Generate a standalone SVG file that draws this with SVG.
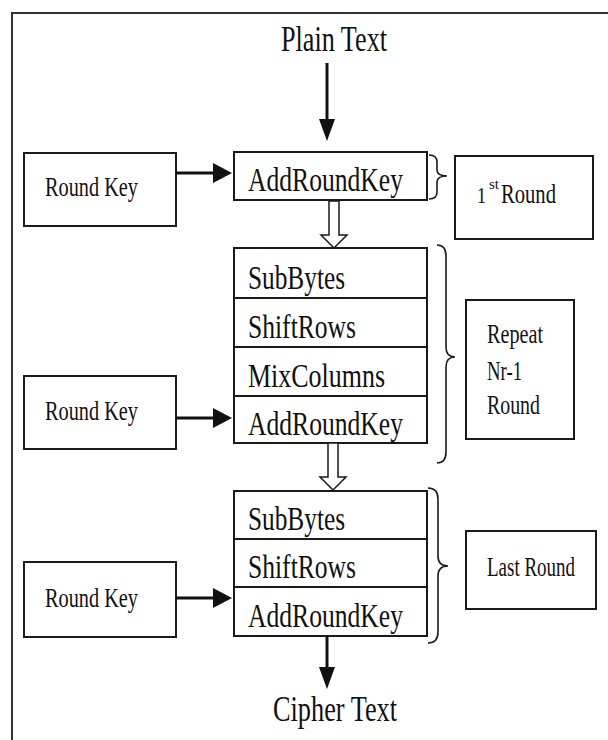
<svg xmlns="http://www.w3.org/2000/svg" width="608" height="740" viewBox="0 0 608 740">
  <defs>
    <style>
      .box { fill: #fff; stroke: #1a1a1a; stroke-width: 2; }
      .rule { stroke: #1a1a1a; stroke-width: 2; fill: none; }
      .frame { stroke: #333; stroke-width: 2; fill: none; }
      .brace { stroke: #1a1a1a; stroke-width: 1.6; fill: none; }
      .shaft { stroke: #111; stroke-width: 3; fill: none; }
      .head { fill: #111; stroke: none; }
      .hollow { fill: #fff; stroke: #1a1a1a; stroke-width: 1.5; stroke-linejoin: miter; }
      text { font-family: "Liberation Serif", "Times New Roman", serif; fill: #111; }
      .big { font-size: 35px; }
      .step { font-size: 33px; }
      .key { font-size: 28px; }
      .note { font-size: 27px; }
    </style>
  </defs>

  <rect width="608" height="740" fill="#fff"/>

  <!-- page frame -->
  <g id="frame">
    <line class="frame" x1="11" y1="13" x2="608" y2="13"/>
    <line class="frame" x1="12" y1="12" x2="12" y2="740"/>
  </g>

  <g id="plain-text">
    <text class="big" x="281" y="51" textLength="106" lengthAdjust="spacingAndGlyphs">Plain Text</text>
  </g>

  <!-- round keys -->
  <g id="round-key-1">
    <rect class="box" x="24" y="153" width="152" height="73"/>
    <text class="key" x="45" y="196" textLength="93" lengthAdjust="spacingAndGlyphs">Round Key</text>
  </g>
  <g id="round-key-2">
    <rect class="box" x="24" y="376" width="152" height="73"/>
    <text class="key" x="45" y="420" textLength="93" lengthAdjust="spacingAndGlyphs">Round Key</text>
  </g>
  <g id="round-key-3">
    <rect class="box" x="24" y="562" width="152" height="75"/>
    <text class="key" x="45" y="607" textLength="93" lengthAdjust="spacingAndGlyphs">Round Key</text>
  </g>

  <!-- initial round -->
  <g id="initial-add-round-key">
    <rect class="box" x="234" y="152" width="193" height="48"/>
    <text class="step" x="248" y="191" textLength="155" lengthAdjust="spacingAndGlyphs">AddRoundKey</text>
  </g>

  <!-- main rounds -->
  <g id="main-round">
    <rect class="box" x="234" y="248" width="193" height="195"/>
    <line class="rule" x1="234" y1="298" x2="427" y2="298"/>
    <line class="rule" x1="234" y1="347" x2="427" y2="347"/>
    <line class="rule" x1="234" y1="396" x2="427" y2="396"/>
    <text class="step" x="248" y="289" textLength="97" lengthAdjust="spacingAndGlyphs">SubBytes</text>
    <text class="step" x="248" y="338" textLength="108" lengthAdjust="spacingAndGlyphs">ShiftRows</text>
    <text class="step" x="248" y="387" textLength="137" lengthAdjust="spacingAndGlyphs">MixColumns</text>
    <text class="step" x="248" y="435" textLength="155" lengthAdjust="spacingAndGlyphs">AddRoundKey</text>
  </g>

  <!-- final round -->
  <g id="final-round">
    <rect class="box" x="234" y="491" width="193" height="145"/>
    <line class="rule" x1="234" y1="539" x2="427" y2="539"/>
    <line class="rule" x1="234" y1="587" x2="427" y2="587"/>
    <text class="step" x="248" y="530" textLength="97" lengthAdjust="spacingAndGlyphs">SubBytes</text>
    <text class="step" x="248" y="578" textLength="108" lengthAdjust="spacingAndGlyphs">ShiftRows</text>
    <text class="step" x="248" y="627" textLength="155" lengthAdjust="spacingAndGlyphs">AddRoundKey</text>
  </g>

  <g id="cipher-text">
    <text class="big" x="273" y="721" textLength="124" lengthAdjust="spacingAndGlyphs">Cipher Text</text>
  </g>

  <!-- round annotations -->
  <g id="first-round-label">
    <rect class="box" x="455" y="156" width="138" height="83"/>
    <text class="note" x="477" y="203"><tspan font-size="24" textLength="9" lengthAdjust="spacingAndGlyphs">1</tspan><tspan x="489" y="189" font-size="14" textLength="10" lengthAdjust="spacingAndGlyphs">st</tspan><tspan x="501" y="203" textLength="55" lengthAdjust="spacingAndGlyphs">Round</tspan></text>
  </g>
  <g id="repeat-label">
    <rect class="box" x="466" y="300" width="108" height="139"/>
    <text class="note" x="487" y="343" textLength="56" lengthAdjust="spacingAndGlyphs">Repeat</text>
    <text class="note" x="487" y="380" textLength="35" lengthAdjust="spacingAndGlyphs">Nr-1</text>
    <text class="note" x="487" y="414" textLength="53" lengthAdjust="spacingAndGlyphs">Round</text>
  </g>
  <g id="last-round-label">
    <rect class="box" x="466" y="531" width="130" height="78"/>
    <text class="note" x="487" y="576" font-size="22" textLength="88" lengthAdjust="spacingAndGlyphs">Last Round</text>
  </g>

  <!-- braces grouping the stages -->
  <g id="braces">
    <path class="brace" d="M429,155 Q437,155 437,162 L437,170 Q437,176 447,176 Q437,176 437,182 L437,192 Q437,199 429,199"/>
    <path class="brace" d="M437,245 Q446,245 446,256 L446,347 Q446,357 455,357 Q446,357 446,367 L446,452 Q446,463 437,463"/>
    <path class="brace" d="M428,488 Q438,488 438,499 L438,556 Q438,566 448,566 Q438,566 438,576 L438,632 Q438,643 428,643"/>
  </g>

  <!-- connectors -->
  <g id="connectors">
    <line class="shaft" x1="327" y1="63" x2="327" y2="122"/>
    <polygon class="head" points="319,119 335,119 327,141"/>

    <line class="shaft" x1="176" y1="173" x2="215" y2="173"/>
    <polygon class="head" points="213,163 213,183 232,173"/>

    <line class="shaft" x1="176" y1="418" x2="215" y2="418"/>
    <polygon class="head" points="213,408 213,428 232,418"/>

    <line class="shaft" x1="176" y1="598" x2="215" y2="598"/>
    <polygon class="head" points="213,588 213,608 232,598"/>

    <polygon class="hollow" points="329,201 339,201 339,235 347,235 334,248 321,235 329,235"/>
    <polygon class="hollow" points="328,443 338,443 338,477 346,477 333,490 320,477 328,477"/>

    <line class="shaft" x1="327" y1="636" x2="327" y2="670"/>
    <polygon class="head" points="319,667 335,667 327,689"/>
  </g>
</svg>
